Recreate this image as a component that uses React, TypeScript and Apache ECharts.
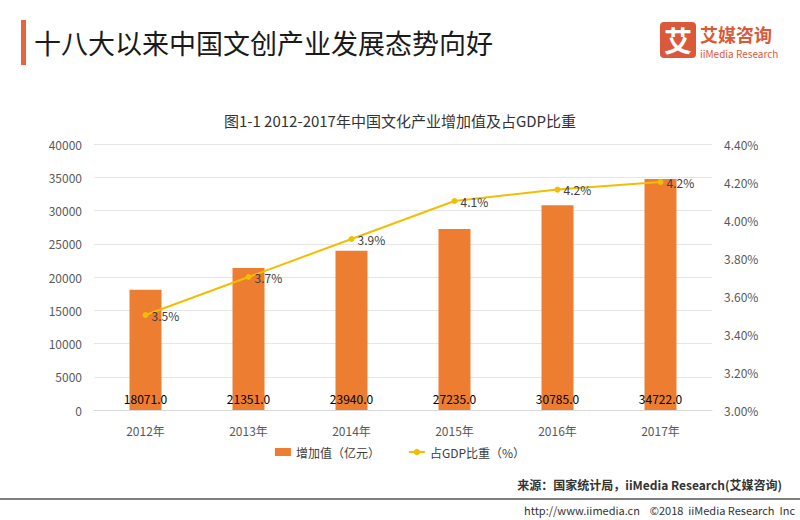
import React, { useEffect, useRef } from "react";
import * as echarts from "echarts";

const categories = ["2012年", "2013年", "2014年", "2015年", "2016年", "2017年"];
const addedValue = [18071, 21351, 23940, 27235, 30785, 34722];
const gdpShare = [3.5, 3.7, 3.9, 4.1, 4.16, 4.2];
const seriesNames = ["增加值（亿元）", "占GDP比重（%）"];

const FONT = "'Noto Sans CJK SC', 'Noto Sans', sans-serif";

export default function App() {
  const ref = useRef<HTMLDivElement>(null);
  useEffect(() => {
    const chart = echarts.init(ref.current!, null, { renderer: "svg" });
    chart.setOption({
      animation: false,
      backgroundColor: "#ffffff",
      textStyle: { fontFamily: FONT },
      title: {
        text: "图1-1 2012-2017年中国文化产业增加值及占GDP比重",
        left: "center",
        top: 108,
        textStyle: { fontSize: 15, fontWeight: "normal", color: "#333333", fontFamily: FONT },
      },
      grid: { left: 94, right: 88, top: 144, bottom: 110, containLabel: false },
      legend: {
        bottom: 57,
        left: "center",
        itemWidth: 16,
        itemHeight: 8,
        itemGap: 28,
        textStyle: { fontSize: 12, color: "#404040", fontFamily: FONT },
        data: [
          { name: seriesNames[0], icon: "rect" },
          { name: seriesNames[1] },
        ],
      },
      xAxis: {
        type: "category",
        data: categories,
        axisLine: { lineStyle: { color: "#d9d9d9" } },
        axisTick: { show: false },
        axisLabel: { color: "#595959", fontSize: 12, margin: 14 },
      },
      yAxis: [
        {
          type: "value",
          min: 0,
          max: 40000,
          interval: 5000,
          axisLine: { show: false },
          axisTick: { show: false },
          axisLabel: { color: "#595959", fontSize: 12, margin: 12, formatter: (v: number) => String(v) },
          splitLine: { lineStyle: { color: "#e6e6e6" } },
        },
        {
          type: "value",
          min: 3.0,
          max: 4.4,
          interval: 0.2,
          axisLine: { show: false },
          axisTick: { show: false },
          splitLine: { show: false },
          axisLabel: {
            color: "#595959",
            fontSize: 12,
            margin: 12,
            formatter: (v: number) => v.toFixed(2) + "%",
          },
        },
      ],
      series: [
        {
          name: seriesNames[0],
          type: "bar",
          data: addedValue,
          barWidth: 32,
          itemStyle: { color: "#ED7D31" },
          label: {
            show: true,
            position: "insideBottom",
            distance: 6,
            color: "#000000",
            fontSize: 12,
            formatter: (p: any) => Number(p.value).toFixed(1),
          },
        },
        {
          name: seriesNames[1],
          type: "line",
          yAxisIndex: 1,
          data: gdpShare,
          symbol: "circle",
          symbolSize: 6,
          lineStyle: { color: "#F2BE00", width: 2 },
          itemStyle: { color: "#F2BE00" },
          label: {
            show: true,
            position: "right",
            distance: 3,
            color: "#404040",
            fontSize: 12,
            formatter: (p: any) => Number(p.value).toFixed(1) + "%",
          },
        },
      ],
      graphic: [
        { type: "rect", shape: { x: 21, y: 20, width: 5, height: 45 }, style: { fill: "#E8643C" } },
        {
          type: "text",
          x: 34,
          y: 42,
          style: {
            text: "十八大以来中国文创产业发展态势向好",
            fontSize: 27,
            fill: "#1a1a1a",
            fontFamily: FONT,
            verticalAlign: "middle",
          },
        },
        { type: "rect", shape: { x: 660, y: 22, width: 36, height: 36, r: 4 }, style: { fill: "#D9593A" } },
        {
          type: "text",
          x: 678,
          y: 40,
          style: {
            text: "艾",
            fontSize: 28,
            fontWeight: "bold",
            fill: "#ffffff",
            fontFamily: FONT,
            align: "center",
            verticalAlign: "middle",
          },
        },
        {
          type: "text",
          x: 700,
          y: 34,
          style: {
            text: "艾媒咨询",
            fontSize: 18,
            lineHeight: 18,
            fontWeight: "bold",
            fill: "#D9593A",
            fontFamily: FONT,
            verticalAlign: "middle",
          },
        },
        {
          type: "text",
          x: 700,
          y: 53,
          style: {
            text: "iiMedia Research",
            fontSize: 10,
            lineHeight: 10,
            fill: "#D9593A",
            fontFamily: FONT,
            verticalAlign: "middle",
          },
        },
        {
          type: "text",
          x: 782,
          y: 484,
          style: {
            text: "来源：国家统计局，iiMedia Research(艾媒咨询)",
            fontSize: 12,
            fontWeight: "bold",
            fill: "#333333",
            fontFamily: FONT,
            align: "right",
            verticalAlign: "middle",
          },
        },
        { type: "line", shape: { x1: 0, y1: 499, x2: 800, y2: 499 }, style: { stroke: "#555555", lineWidth: 1.5 } },
        {
          type: "text",
          x: 795,
          y: 510,
          style: {
            text: "http://www.iimedia.cn    ©2018  iiMedia Research  Inc",
            fontSize: 11,
            fill: "#333333",
            fontFamily: FONT,
            align: "right",
            verticalAlign: "middle",
          },
        },
      ],
    });
    return () => chart.dispose();
  }, []);
  return <div ref={ref} style={{ width: 800, height: 520, position: "absolute", left: 0, top: 0 }} />;
}
